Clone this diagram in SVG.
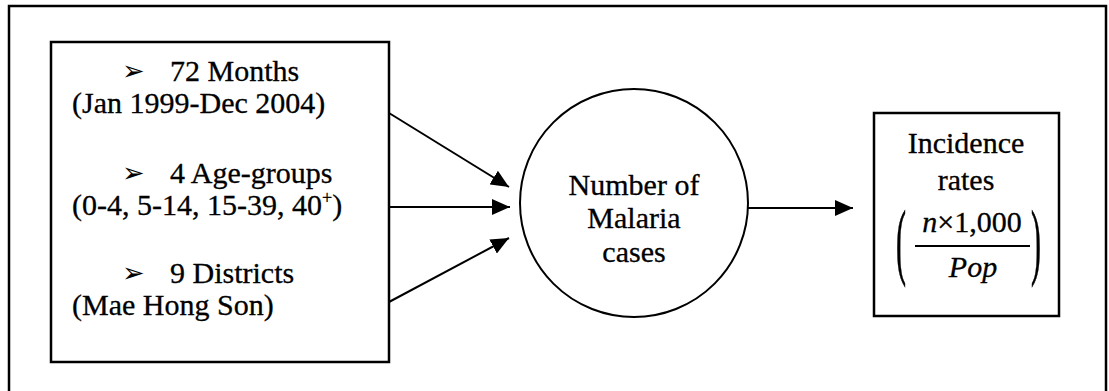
<svg xmlns="http://www.w3.org/2000/svg" width="1109" height="391" viewBox="0 0 1109 391">
  <defs>
    <style>
      .t { font-family: "Liberation Serif", "Times New Roman", serif; font-size: 30px; fill: #000; stroke: #000; stroke-width: 0.3; }
      .c { text-anchor: middle; }
      .i { font-style: italic; }
      .b { font-family: "DejaVu Sans", sans-serif; font-size: 27px; fill: #000; }
      .box { fill: #fff; stroke: #000; stroke-width: 2.5; }
      .edge { fill: none; stroke: #000; stroke-width: 2; }
    </style>
    <marker id="ah" markerUnits="userSpaceOnUse" markerWidth="20" markerHeight="16" refX="18" refY="8" orient="auto">
      <path d="M0,0 L18,8 L0,16 Z" fill="#000"/>
    </marker>
  </defs>
  <rect width="1109" height="391" fill="#fff"/>
  <rect id="frame" x="9" y="6" width="1097" height="420" fill="none" stroke="#000" stroke-width="2.5"/>

  <g id="inputs">
    <rect class="box" x="51" y="42" width="338" height="320"/>
    <text class="b" x="122" y="80">➢</text>
    <text class="t" x="170" y="81">72 Months</text>
    <text class="t" x="72" y="113">(Jan 1999-Dec 2004)</text>
    <text class="b" x="122" y="182">➢</text>
    <text class="t" x="170" y="183">4 Age-groups</text>
    <text class="t" x="72" y="215">(0-4, 5-14, 15-39, 40<tspan font-size="18" dy="-11">+</tspan><tspan dy="11">)</tspan></text>
    <text class="b" x="122" y="282">➢</text>
    <text class="t" x="170" y="283">9 Districts</text>
    <text class="t" x="72" y="315">(Mae Hong Son)</text>
  </g>

  <g id="cases">
    <circle cx="634" cy="203" r="114" fill="#fff" stroke="#000" stroke-width="2"/>
    <text class="t c" x="634" y="195">Number of</text>
    <text class="t c" x="634" y="228">Malaria</text>
    <text class="t c" x="634" y="262">cases</text>
  </g>

  <g id="incidence">
    <rect class="box" x="874" y="113" width="185" height="203"/>
    <text class="t c" x="966" y="153">Incidence</text>
    <text class="t c" x="966" y="190">rates</text>
    <text class="t" transform="translate(896,269) scale(1,2.8)" font-size="46" stroke-width="0.2">(</text>
    <text class="t" transform="translate(1031,269) scale(1,2.8)" font-size="46" stroke-width="0.2">)</text>
    <text class="t c" x="972" y="232" font-size="32"><tspan class="i">n</tspan>×1,000</text>
    <line x1="915" y1="246" x2="1030" y2="246" stroke="#000" stroke-width="2"/>
    <text class="t c i" x="973" y="277" font-size="32">Pop</text>
  </g>

  <g id="connectors">
    <line class="edge" x1="389" y1="113" x2="509" y2="187" marker-end="url(#ah)"/>
    <line class="edge" x1="389" y1="207" x2="510" y2="207" marker-end="url(#ah)"/>
    <line class="edge" x1="389" y1="302" x2="509" y2="238" marker-end="url(#ah)"/>
    <line class="edge" x1="748" y1="208" x2="853" y2="208" marker-end="url(#ah)"/>
  </g>
</svg>
